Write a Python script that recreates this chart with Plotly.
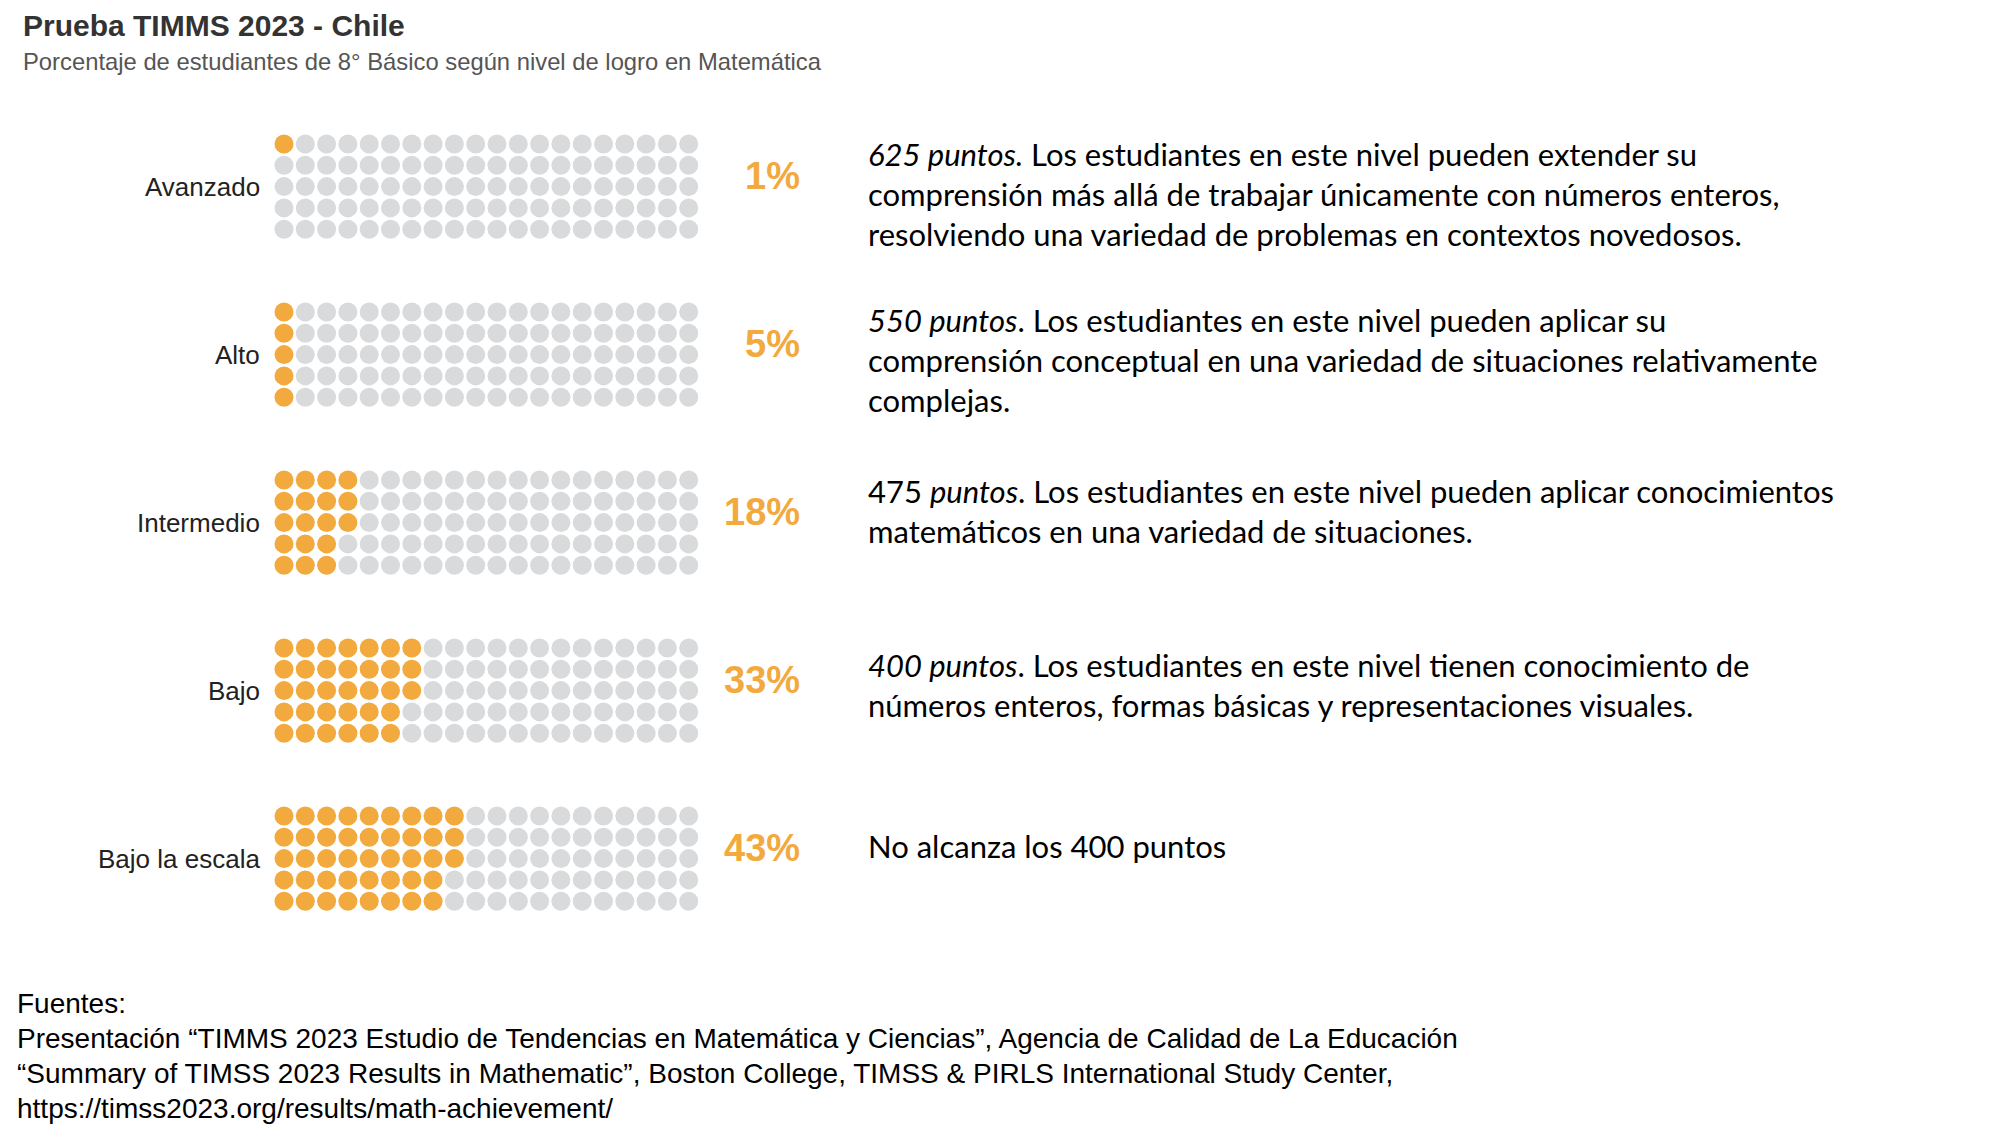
"""Prueba TIMMS 2023 - Chile: gráfico waffle por nivel de logro."""

import plotly.graph_objects as go

niveles = ["Avanzado", "Alto", "Intermedio", "Bajo", "Bajo la escala"]
porcentajes = [1, 5, 18, 33, 43]
descripciones = [
    ["<i>625 puntos.</i> Los estudiantes en este nivel pueden extender su",
     "comprensión más allá de trabajar únicamente con números enteros,",
     "resolviendo una variedad de problemas en contextos novedosos."],
    ["<i>550 puntos</i>. Los estudiantes en este nivel pueden aplicar su",
     "comprensión conceptual en una variedad de situaciones relativamente",
     "complejas."],
    ["475 <i>puntos</i>. Los estudiantes en este nivel pueden aplicar conocimientos",
     "matemáticos en una variedad de situaciones."],
    ["<i>400 puntos</i>. Los estudiantes en este nivel tienen conocimiento de",
     "números enteros, formas básicas y representaciones visuales."],
    ["No alcanza los 400 puntos"],
]
fuentes = [
    "Fuentes:",
    "Presentación “TIMMS 2023 Estudio de Tendencias en Matemática y Ciencias”, Agencia de Calidad de La Educación",
    "“Summary of TIMSS 2023 Results in Mathematic”, Boston College, TIMSS & PIRLS International Study Center,",
    "https://timss2023.org/results/math-achievement/",
]

NARANJA = "#F2A93D"
GRIS = "#D9DADC"
FILAS, COLUMNAS = 5, 20
PASO = 21.3
X0 = 284
Y0 = 144
PASO_GRUPO = 168
desc_y = [154, 320, 491, 665, 846]

fig = go.Figure()
xs, ys, colores = [], [], []
for i, pct in enumerate(porcentajes):
    for k in range(FILAS * COLUMNAS):
        col, fila = divmod(k, FILAS)
        xs.append(X0 + col * PASO)
        ys.append(Y0 + i * PASO_GRUPO + fila * PASO)
        colores.append(NARANJA if k < pct else GRIS)
fig.add_scatter(x=xs, y=ys, mode="markers", hoverinfo="skip", showlegend=False,
                marker={"size": 19, "color": colores, "line": {"width": 0}})

anots = []
for i, (nivel, pct) in enumerate(zip(niveles, porcentajes)):
    centro = Y0 + i * PASO_GRUPO + 2 * PASO
    anots.append(dict(x=262, y=centro, text=nivel, xanchor="right", yanchor="middle",
                      font={"family": "Liberation Sans", "size": 26, "color": "#222"}))
    anots.append(dict(x=802, y=centro - 11, text=f"<b>{pct}%</b>", xanchor="right", yanchor="middle",
                      font={"family": "Liberation Sans", "size": 38, "color": NARANJA}))
    for j, linea in enumerate(descripciones[i]):
        anots.append(dict(x=866, y=desc_y[i] + j * 40, text=linea, xanchor="left", yanchor="middle",
                          font={"family": "Lato", "size": 31, "color": "#000"}))

anots.append(dict(x=21, y=25, text="<b>Prueba TIMMS 2023 - Chile</b>", xanchor="left", yanchor="middle",
                  font={"family": "Liberation Sans", "size": 30, "color": "#333"}))
anots.append(dict(x=21, y=61, text="Porcentaje de estudiantes de 8° Básico según nivel de logro en Matemática",
                  xanchor="left", yanchor="middle",
                  font={"family": "Liberation Sans", "size": 23.8, "color": "#555"}))
for j, linea in enumerate(fuentes):
    anots.append(dict(x=15, y=1003 + j * 35, text=linea, xanchor="left", yanchor="middle",
                      font={"family": "Liberation Sans", "size": 28, "color": "#000"}))

for a in anots:
    a.update(xref="x", yref="y", showarrow=False)

fig.update_layout(
    width=2000, height=1125,
    margin={"l": 0, "r": 0, "t": 0, "b": 0},
    paper_bgcolor="white", plot_bgcolor="white",
    xaxis={"range": [0, 2000], "visible": False, "fixedrange": True},
    yaxis={"range": [1125, 0], "visible": False, "fixedrange": True},
    annotations=anots,
)
fig.write_html("out.html", config={"displayModeBar": False},
               post_script="document.body.style.margin='0';")
